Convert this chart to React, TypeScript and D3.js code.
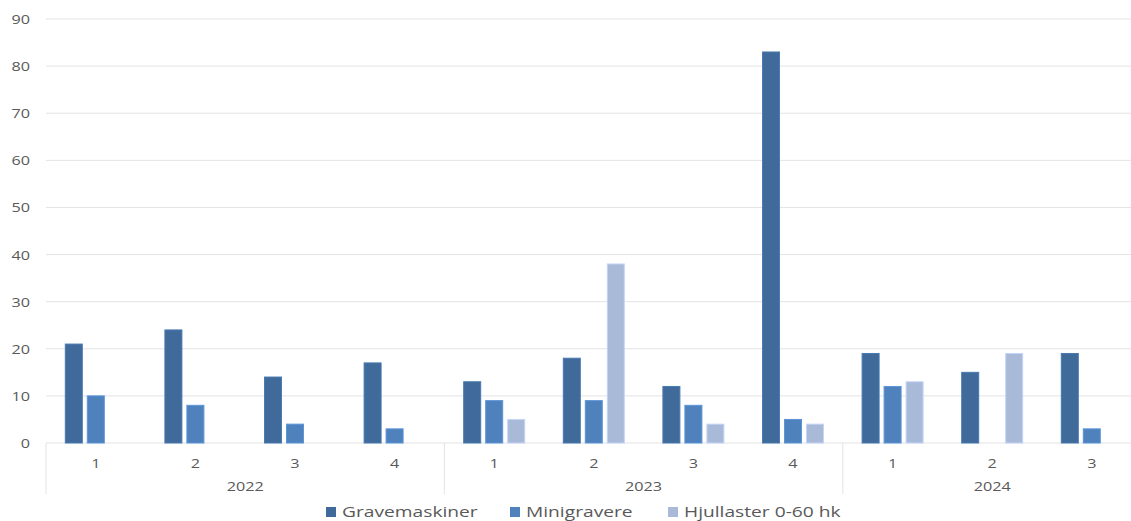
import React, { useEffect, useRef } from 'react';
import * as d3 from 'd3';

const years = ['2022', '2023', '2024'];
const quarters = [['1', '2', '3', '4'], ['1', '2', '3', '4'], ['1', '2', '3']];
const seriesNames = ['Gravemaskiner', 'Minigravere', 'Hjullaster 0-60 hk'];
const gravemaskiner = [21, 24, 14, 17, 13, 18, 12, 83, 19, 15, 19];
const minigravere = [10, 8, 4, 3, 9, 9, 8, 5, 12, 0, 3];
const hjullaster = [0, 0, 0, 0, 5, 38, 4, 4, 13, 19, 0];
const yTicks = [0, 10, 20, 30, 40, 50, 60, 70, 80, 90];
const colors = ['#3f6a9a', '#4f81bd', '#a9b9d8'];

const App = () => {
  const svgRef = useRef<SVGSVGElement>(null);

  useEffect(() => {
    const svg = d3.select(svgRef.current);
    svg.selectAll('*').remove();
    const W = 1131;
    const left = 46, top = 19, bottom = 443;
    const bandW = 99.6;
    const groupW = 61;
    const font = "'Open Sans', sans-serif";
    const txt = '#595959';

    // stretched text helper (the reference is a bit wide)
    const label = (g: any, px: number, py: number, s: string | number, size: number, sx: number, anchor: string) =>
      g.append('text')
        .attr('transform', `translate(${px},${py}) scale(${sx},1)`)
        .attr('text-anchor', anchor)
        .style('font-family', font).style('font-size', `${size}px`).attr('fill', txt)
        .text(s);

    const cats: { key: string; q: string; yi: number }[] = [];
    quarters.forEach((qs, yi) => qs.forEach(q => cats.push({ key: `${years[yi]}-${q}`, q, yi })));

    const x = d3.scaleBand().domain(cats.map(c => c.key)).range([left, left + bandW * cats.length]);
    const y = d3.scaleLinear().domain([0, 90]).range([bottom, top]);
    const xs = d3.scaleBand().domain(seriesNames).range([0, groupW]).paddingInner(5 / 22);

    // gridlines
    svg.append('g').selectAll('line').data(yTicks).enter().append('line')
      .attr('x1', left).attr('x2', W)
      .attr('y1', d => y(d)).attr('y2', d => y(d))
      .attr('stroke', '#e3e3e3').attr('stroke-width', 1);

    const yl = svg.append('g');
    yTicks.forEach(t => label(yl, 30, y(t) + 5, t, 13.5, 1.2, 'end'));

    const series = [gravemaskiner, minigravere, hjullaster];
    series.forEach((vals, si) => {
      svg.append('g').selectAll('rect').data(cats.map((c, i) => ({ c, v: vals[i] })).filter(d => d.v > 0))
        .enter().append('rect')
        .attr('x', d => x(d.c.key)! + (x.bandwidth() - groupW) / 2 + xs(seriesNames[si])!)
        .attr('y', d => y(d.v))
        .attr('width', xs.bandwidth())
        .attr('height', d => bottom - y(d.v))
        .attr('fill', colors[si])
        .attr('stroke', d3.color(colors[si])!.brighter(0.4).toString())
        .attr('stroke-width', 1);
    });

    // category axis
    const ax = svg.append('g');
    cats.forEach(c => label(ax, x(c.key)! + x.bandwidth() / 2, 468, c.q, 13.5, 1.2, 'middle'));
    let start = 0;
    const seps = [left];
    years.forEach((yr, yi) => {
      const n = quarters[yi].length;
      const x0 = x(cats[start].key)!;
      const x1 = x0 + n * x.bandwidth();
      label(ax, (x0 + x1) / 2, 491, yr, 13.5, 1.2, 'middle');
      seps.push(x1);
      start += n;
    });
    ax.selectAll('line.sep').data(seps).enter().append('line')
      .attr('x1', d => d).attr('x2', d => d)
      .attr('y1', bottom).attr('y2', 494)
      .attr('stroke', '#e3e3e3');

    // legend
    const legendX = [326, 510, 668];
    const lg = svg.append('g');
    seriesNames.forEach((n, i) => {
      lg.append('rect').attr('x', legendX[i]).attr('y', 507).attr('width', 10).attr('height', 10).attr('fill', colors[i]);
      label(lg, legendX[i] + 16, 517, n, 15, 1.28, 'start');
    });
  }, []);

  return <svg ref={svgRef} width={1131} height={521} style={{ position: 'absolute', left: 0, top: 0, background: '#fff' }} />;
};

export default App;
